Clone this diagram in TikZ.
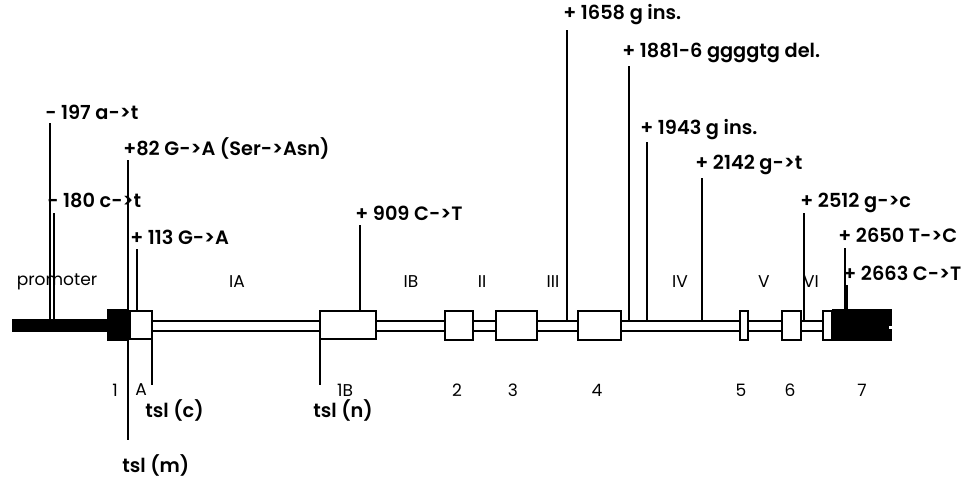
\documentclass[tikz,border=0pt]{standalone}
\usepackage{fontspec}
\setmainfont[RawFeature={-calt;-liga;-dlig}, BoldFont={Poppins SemiBold}]{Poppins}
\begin{document}
\begin{tikzpicture}[x=0.75pt,y=-0.75pt,
  mut/.style={font=\bfseries\fontsize{14.5}{16}\selectfont, inner sep=0pt, anchor=west},
  reg/.style={font=\fontsize{12.8}{14}\selectfont, inner sep=0pt},
  mline/.style={line width=1.2pt},
  exon/.style={draw=black, fill=white, line width=1.5pt},
  blk/.style={fill=black, draw=none}]
\useasboundingbox (0,0) rectangle (964,479);
% intron backbone
\draw[exon] (152,320.5) rectangle (823,330.5);
% promoter bar and exon 1
\fill[blk] (12,319) rectangle (108,332);
\fill[blk] (107,309) rectangle (129,341);
\draw[exon] (129.5,311) rectangle (152,339);
\draw[exon] (320,311) rectangle (376,339);
\draw[exon] (445,311) rectangle (473,340);
\draw[exon] (496,311) rectangle (537,340);
\draw[exon] (578,311) rectangle (621,340);
\draw[exon] (740,311) rectangle (748,340);
\draw[exon] (782,311) rectangle (801,340);
\draw[exon] (823,311) rectangle (832,340);
\fill[blk] (832,309) rectangle (892,341);
\fill[white] (889,325.5) rectangle (892,328.5);
% region labels
\node[reg] (promoter) at (57,282) {promoter};
\node[reg] (IA) at (237,282) {IA};
\node[reg] (IB) at (411,282) {IB};
\node[reg] (II) at (482,282) {II};
\node[reg] (III) at (553,282) {III};
\node[reg] (IV) at (680,282) {IV};
\node[reg] (V) at (764,282) {V};
\node[reg] (VI) at (811,282) {VI};
% exon numbers
\node[reg] (n1) at (115,390) {1};
\node[reg] (nA) at (141,390) {A};
\node[reg] (n1B) at (345,390) {1B};
\node[reg] (n2) at (457,390) {2};
\node[reg] (n3) at (513,390) {3};
\node[reg] (n4) at (597,390) {4};
\node[reg] (n5) at (741,390) {5};
\node[reg] (n6) at (790,390) {6};
\node[reg] (n7) at (862,390) {7};
% mutation labels
\node[mut] (m197) at (45,112) {- 197 a->t};
\node[mut] (m180) at (47,200) {- 180 c->t};
\node[mut] (m82) at (123,148) {+82 G->A (Ser->Asn)};
\node[mut] (m113) at (130,237) {+ 113 G->A};
\node[mut] (m909) at (355,213) {+ 909 C->T};
\node[mut] (m1658) at (563,15) {+ 1658 g ins.};
\node[mut] (m1881) at (622,53) {+ 1881-6 ggggtg del.};
\node[mut] (m1943) at (640,130) {+ 1943 g ins.};
\node[mut] (m2142) at (695,165) {+ 2142 g->t};
\node[mut] (m2512) at (800,203) {+ 2512 g->c};
\node[mut] (m2650) at (838,235) {+ 2650 T->C};
\node[mut] (m2663) at (843,273) {+ 2663 C->T};
\node[mut] (tc) at (145,410) {tsl (c)};
\node[mut] (tn) at (313,410) {tsl (n)};
\node[mut] (tm) at (122,465) {tsl (m)};
% marker lines
\coordinate (a197) at (50,123);   \coordinate (b197) at (50,320);
\coordinate (a180) at (54,213);   \coordinate (b180) at (54,320);
\coordinate (a82) at (128,160);   \coordinate (b82) at (128,440);
\coordinate (a113) at (137,249);  \coordinate (b113) at (137,311);
\coordinate (a909) at (360,225);  \coordinate (b909) at (360,311);
\coordinate (a1658) at (567,30);  \coordinate (b1658) at (567,320);
\coordinate (a1881) at (629,66);  \coordinate (b1881) at (629,320);
\coordinate (a1943) at (647,142); \coordinate (b1943) at (647,320);
\coordinate (a2142) at (702,178); \coordinate (b2142) at (702,320);
\coordinate (a2512) at (804,213); \coordinate (b2512) at (804,320);
\coordinate (a2650) at (845,248); \coordinate (b2650) at (845,309);
\coordinate (a2663) at (846,285); \coordinate (b2663) at (846,309);
\coordinate (ac) at (152,339);    \coordinate (bc) at (152,385);
\coordinate (an) at (320,339);    \coordinate (bn) at (320,385);
\foreach \m in {197,180,82,113,909,1658,1881,1943,2142,2512,2650}
  \draw[mline] (a\m) -- (b\m);
\draw[line width=2.4pt] (a2663) -- (b2663);
\draw[mline] (ac) -- (bc);
\draw[mline] (an) -- (bn);
\end{tikzpicture}
\end{document}
